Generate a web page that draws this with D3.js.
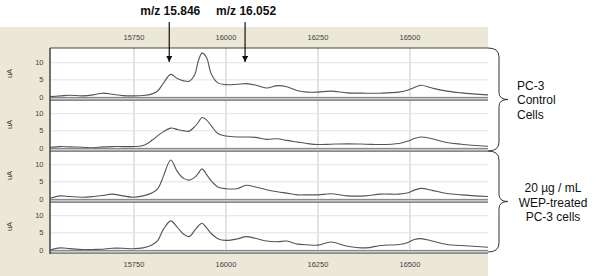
<!DOCTYPE html>
<html>
<head>
<meta charset="utf-8">
<script src="https://cdn.jsdelivr.net/npm/d3@7"></script>
<style>
  body { margin: 0; background: #fff; }
  svg { display: block; font-family: "Liberation Sans", Arial, sans-serif; }
</style>
</head>
<body>
<div id="chart"></div>
<script>
// m/z sampling points shared by all four spectra
const mzGrid = [15522, 15550, 15575, 15610, 15640, 15665, 15690, 15720, 15747, 15775,
  15800, 15815, 15830, 15850, 15868, 15885, 15900, 15915, 15925, 15935,
  15947, 15960, 15978, 16000, 16030, 16055, 16080, 16110, 16140, 16165,
  16195, 16220, 16250, 16285, 16330, 16380, 16420, 16470, 16495, 16510,
  16530, 16560, 16600, 16640, 16712];

// intensities (uA)
const control1 = [0.1, 0.3, 0.5, 0.3, 0.6, 1.1, 0.8, 0.4, 0.3, 0.4,
  0.9, 1.8, 4.0, 6.6, 5.4, 4.7, 4.6, 6.5, 10.5, 12.8,
  11.6, 6.8, 4.1, 3.6, 3.7, 3.9, 3.5, 2.6, 3.3, 3.0,
  1.8, 1.4, 1.4, 1.7, 1.2, 1.1, 1.1, 1.4, 2.0, 2.7,
  3.4, 2.6, 1.7, 1.2, 0.6];
const control2 = [0.2, 0.4, 0.3, 0.2, 0.05, 0.3, 0.4, 0.4, 0.4, 0.7,
  2.3, 3.6, 4.7, 5.8, 5.4, 5.0, 4.9, 6.2, 7.5, 8.9,
  8.2, 6.5, 4.2, 3.5, 3.2, 3.2, 3.1, 2.5, 2.7, 2.2,
  1.7, 1.3, 1.0, 1.1, 1.2, 1.1, 1.0, 1.3, 2.0, 2.7,
  3.2, 2.7, 1.6, 1.1, 0.5];
const treated1 = [0.2, 0.9, 0.7, 0.5, 0.7, 1.0, 1.4, 0.9, 0.5, 0.9,
  1.8, 3.0, 6.6, 11.4, 8.0, 6.0, 5.5, 6.3, 7.5, 8.8,
  7.2, 5.3, 3.5, 3.0, 3.0, 4.0, 3.5, 2.7, 2.1, 1.7,
  1.2, 1.2, 1.2, 1.5, 0.9, 0.9, 1.4, 1.4, 1.8, 2.5,
  3.1, 2.5, 1.6, 1.2, 0.7];
const treated2 = [0.0, 0.6, 0.4, 0.15, 0.15, 0.2, 0.5, 0.5, 0.35, 0.6,
  1.5, 2.8, 6.0, 8.5, 6.6, 4.6, 3.9, 5.7, 7.0, 7.8,
  6.5, 4.8, 3.3, 2.8, 3.2, 3.9, 3.4, 2.6, 2.4, 2.6,
  1.7, 1.5, 1.4, 2.3, 1.1, 0.6, 1.3, 1.6, 2.2, 3.0,
  3.3, 2.6, 1.6, 1.3, 0.8];

const spectra = [control1, control2, treated1, treated2];
const xTicks = [15750, 16000, 16250, 16500];
const yTicks = [0, 5, 10];
const peakMarks = [15846, 16052];
const peakLabels = ["m/z 15.846", "m/z 16.052"];
const groupLabels = [["PC-3", "Control", "Cells"], ["20 µg / mL", "WEP-treated", "PC-3 cells"]];

const width = 600, height = 276;
const plotLeft = 50, plotRight = 488, plotTop = 48, panelH = 51;
const beige = "#ebe8d8";

const svg = d3.select("#chart").append("svg")
    .attr("width", width)
    .attr("height", height);

// beige frame and white plot area
svg.append("rect").attr("x", 0).attr("y", 27).attr("width", plotRight).attr("height", height - 27)
    .attr("fill", beige);
svg.append("rect").attr("x", plotLeft).attr("y", plotTop)
    .attr("width", plotRight - plotLeft).attr("height", panelH * spectra.length)
    .attr("fill", "#fff");

const x = d3.scaleLinear().domain([15522, 16712]).range([plotLeft, plotRight]);

svg.append("clipPath").attr("id", "clip")
  .append("rect").attr("x", plotLeft).attr("y", plotTop)
    .attr("width", plotRight - plotLeft).attr("height", panelH * spectra.length);

// vertical grid
svg.append("g").selectAll("line")
    .data(xTicks).enter().append("line")
    .attr("x1", d => x(d)).attr("x2", d => x(d))
    .attr("y1", plotTop).attr("y2", plotTop + panelH * spectra.length)
    .attr("stroke", "#dadada").attr("stroke-width", 1.5);

spectra.forEach((vals, i) => {
  const top = plotTop + i * panelH, bottom = top + panelH;
  const y = d3.scaleLinear().domain([-0.6, 14.3]).range([bottom, top]);
  const g = svg.append("g");

  g.selectAll(".hgrid").data(yTicks).enter().append("line")
      .attr("x1", plotLeft).attr("x2", plotRight)
      .attr("y1", d => y(d)).attr("y2", d => y(d))
      .attr("stroke", "#e2e2e2").attr("stroke-width", 1);

  g.selectAll(".ytick").data(yTicks).enter().append("text")
      .attr("x", 43.5).attr("y", d => y(d)).attr("dy", "0.35em")
      .attr("text-anchor", "end")
      .style("font-size", "7.5px").style("fill", "#444")
      .text(d => d);

  g.append("text")
      .attr("transform", `translate(12,${(top + bottom) / 2}) rotate(-90)`)
      .attr("text-anchor", "middle")
      .style("font-size", "7.5px").style("fill", "#444")
      .text("uA");

  const line = d3.line()
      .x((d, j) => x(mzGrid[j]))
      .y(d => y(d))
      .curve(d3.curveCatmullRom.alpha(0.5));

  g.append("path").datum(vals)
      .attr("clip-path", "url(#clip)")
      .attr("d", line)
      .attr("fill", "none").attr("stroke", "#555").attr("stroke-width", 1.1);

  // double separator line under each panel
  g.append("rect").attr("x", plotLeft).attr("y", bottom - 2)
      .attr("width", plotRight - plotLeft).attr("height", 4).attr("fill", "#8a8a8a");
  g.append("line").attr("x1", plotLeft).attr("x2", plotRight)
      .attr("y1", bottom - 0.2).attr("y2", bottom - 0.2)
      .attr("stroke", "#e6e6e6").attr("stroke-width", 1);
});

// top border and left border
svg.append("line").attr("x1", plotLeft).attr("x2", plotRight)
    .attr("y1", plotTop).attr("y2", plotTop).attr("stroke", "#444").attr("stroke-width", 1.2);
svg.append("line").attr("x1", plotLeft).attr("x2", plotLeft)
    .attr("y1", plotTop).attr("y2", plotTop + panelH * spectra.length + 2)
    .attr("stroke", "#444").attr("stroke-width", 1.5);

// axis labels top and bottom
[40, 267].forEach(yy => {
  svg.append("g").selectAll("text").data(xTicks).enter().append("text")
      .attr("x", d => x(d)).attr("y", yy)
      .attr("text-anchor", "middle")
      .style("font-size", "7.5px").style("fill", "#444")
      .text(d => d);
});

// peak arrows
svg.append("defs").append("marker")
    .attr("id", "arrow").attr("viewBox", "0 0 10 10")
    .attr("refX", 10).attr("refY", 5)
    .attr("markerWidth", 5).attr("markerHeight", 5)
    .attr("orient", "auto")
  .append("path").attr("d", "M0,0 L10,5 L0,10 z").attr("fill", "#111");

peakMarks.forEach((m, k) => {
  svg.append("line")
      .attr("x1", x(m)).attr("x2", x(m))
      .attr("y1", 22).attr("y2", 62)
      .attr("stroke", "#111").attr("stroke-width", 1.2)
      .attr("marker-end", "url(#arrow)");
  svg.append("text")
      .attr("x", x(m) + 1).attr("y", 15)
      .attr("text-anchor", "middle")
      .style("font-size", "12px").style("font-weight", "bold").style("fill", "#111")
      .text(peakLabels[k]);
});

// braces grouping the panels
function brace(y0, y1) {
  const xm = 499, tip = 508, mid = (y0 + y1) / 2;
  return `M${plotRight},${y0} Q${xm},${y0} ${xm},${y0 + 9} L${xm},${mid - 7} ` +
    `Q${xm},${mid} ${tip},${mid} Q${xm},${mid} ${xm},${mid + 7} ` +
    `L${xm},${y1 - 9} Q${xm},${y1} ${plotRight},${y1}`;
}
svg.append("path").attr("d", brace(plotTop, plotTop + 2 * panelH + 1))
    .attr("fill", "none").attr("stroke", "#333").attr("stroke-width", 1);
svg.append("path").attr("d", brace(plotTop + 2 * panelH + 1, plotTop + 4 * panelH))
    .attr("fill", "none").attr("stroke", "#333").attr("stroke-width", 1);

svg.append("g").selectAll("text").data(groupLabels[0]).enter().append("text")
    .attr("x", 517).attr("y", (d, i) => 90 + i * 14.3)
    .style("font-size", "12px").style("fill", "#111")
    .text(d => d);
svg.append("g").selectAll("text").data(groupLabels[1]).enter().append("text")
    .attr("x", 553).attr("y", (d, i) => 192 + i * 14.6)
    .attr("text-anchor", "middle")
    .style("font-size", "12px").style("fill", "#111")
    .text(d => d);
</script>
</body>
</html>
